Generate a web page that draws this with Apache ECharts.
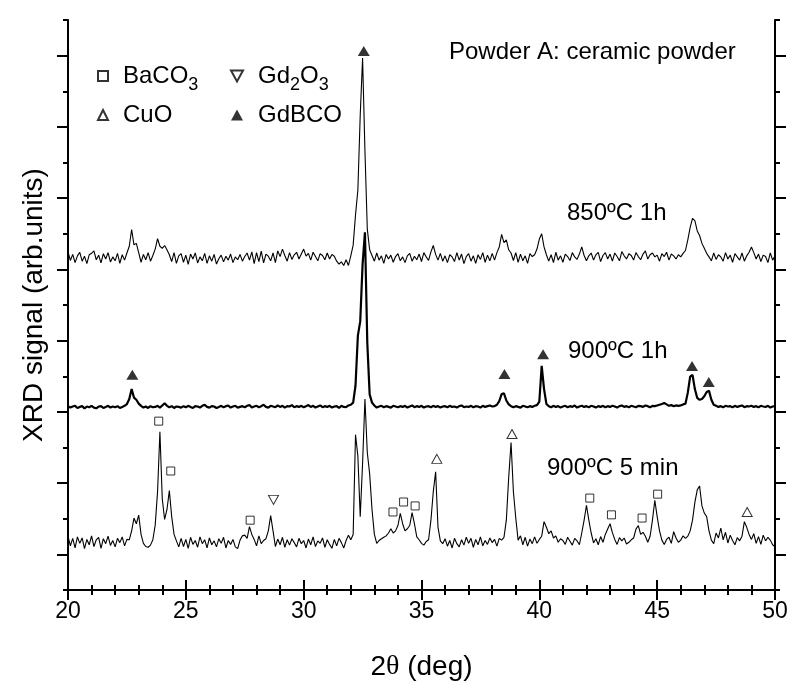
<!DOCTYPE html>
<html>
<head>
<meta charset="utf-8">
<script src="https://cdn.jsdelivr.net/npm/echarts@6/dist/echarts.min.js"></script>
<style>
  html, body { margin: 0; padding: 0; background: #fff; }
  #main { width: 791px; height: 686px; }
</style>
</head>
<body>
<div id="main"></div>
<script>
  // 2theta grid of the scans (deg)
  var thetaStart = 20;
  var thetaStep = 0.1;

  // vertical offsets of the stacked patterns (arb. units)
  var offset850 = 93.3;
  var offset900 = 51.4;
  var offset5min = 13.6;

  // 850ºC 1h, one row per degree (20.0 ... 50.0)
  var signal850 = [
    1.6, -0.8, 0.9, -1.4, 0.5, 1.5, -1.0, 0.4, -1.7, 0.8,
    1.2, 1.9, -0.6, 0.7, -1.5, 1.1, -0.4, 1.4, -1.2, 0.2,
    -0.9, 1.2, -1.6, 0.8, -0.7, 1.3, 3.2, 7.9, 3.6, 4.0,
    1.4, -1.3, 0.9, -0.6, 1.4, -1.0, 0.6, 2.4, 5.3, 3.2,
    2.6, 3.4, 2.2, 0.8, -1.1, 1.4, -1.6, 0.5, 1.1, -1.3,
    0.7, -1.9, 1.0, -0.4, 1.3, -1.5, 0.2, -0.9, 1.2, -1.6,
    0.5, -1.0, 0.9, -1.8, -0.3, 0.7, -1.2, 0.4, -0.7, 1.0,
    -1.4, 0.2, -0.6, 0.9, -1.0, 0.3, 1.3, -0.7, 1.6, -1.7,
    1.4, -1.1, 1.8, -1.5, 1.0, 0.4, -0.9, 1.3, -1.4, 1.9,
    0.3, 2.4, 0.6, -1.0, 1.4, -0.5, 0.8, 1.5, -0.4, 1.0,
    2.4, 0.4, 1.2, -0.7, 1.5, 0.3, -0.9, 1.1, 0.6, -0.6,
    1.3, -0.4, 0.9, 0.4, -1.0, -1.8, -1.2, -2.2, -0.6, -2.2,
    0.5, 3.5, 12.0, 19.0, 40.0, 56.0, 30.0, 8.0, 2.2, 0.6,
    -1.0, 1.3, -0.7, 0.5, -1.6, 0.9, -0.4, 0.7, -1.3, 0.3,
    1.1, -0.9, 0.2, -1.4, 0.5, 1.2, -1.0, 0.4, -0.6, 1.0,
    -1.1, 1.4, 0.2, -0.8, 1.6, 3.4, 0.9, -0.7, 1.2, -1.0,
    0.5, -1.4, 0.8, 0.2, -1.1, 1.4, -0.7, 1.0, -1.7, 0.3,
    1.1, -1.0, 0.5, -1.6, 0.8, -0.5, 1.4, -1.3, 0.7, -0.9,
    1.2, -0.7, 1.4, 3.0, 6.5, 4.2, 5.0, 2.2, 1.3, -0.8,
    1.4, -1.3, 1.0, -0.9, 0.5, -1.6, 1.1, 0.3, 0.8, 2.4,
    5.2, 6.7, 3.0, 0.8, -1.0, 0.8, -1.4, 1.5, -0.7, 0.5,
    -1.3, 1.0, 0.3, -0.8, 1.4, 0.2, -0.5, 1.0, 3.0, 0.6,
    -0.9, 0.5, 1.3, -0.7, 0.8, 1.5, -1.1, 0.6, 1.4, -0.4,
    1.0, -1.0, 1.3, 0.3, -0.9, 1.7, 0.5, -0.4, 1.1, 0.6,
    -0.7, 1.4, 0.3, -0.6, 1.0, 1.9, -0.4, 0.8, 1.3, 0.2,
    0.7, -1.0, 1.1, 0.3, 1.5, -0.7, 1.0, 0.5, -0.4, 0.8,
    0.2, 1.2, 2.0, 5.0, 8.5, 11.0, 10.4, 7.5, 6.2, 4.0,
    2.6, 1.2, 0.2, -0.9, 1.3, -0.5, 0.8, 0.2, -1.0, 1.4,
    -0.4, 0.7, -1.3, 1.1, 0.2, -0.7, 1.3, -1.0, 0.5, 1.5,
    3.0, 1.4, -0.4, 1.0, -1.1, 0.7, 0.3, -1.4, 1.3, -0.7,
    0.5
  ];

  // 900ºC 1h
  var signal900 = [
    0.2, -0.2, 0.1, 0.3, -0.3, 0.0, 0.2, -0.4, 0.1, -0.1,
    0.3, -0.2, -0.4, 0.1, 0.2, -0.3, 0.0, 0.3, -0.2, 0.1,
    -0.1, 0.2, -0.3, 0.0, 0.3, 0.8, 2.2, 5.0, 2.6, 2.0,
    0.9, 0.3, -0.2, 0.1, -0.3, 0.2, -0.1, 0.0, 0.3, -0.2,
    0.4, 1.0, 0.3, -0.1, 0.2, -0.3, 0.1, 0.0, -0.2, 0.2,
    -0.1, 0.3, 0.0, -0.3, 0.2, 0.1, -0.2, 0.3, 0.6, 0.0,
    -0.2, 0.2, 0.1, -0.3, 0.0, 0.3, -0.1, 0.2, 0.4, -0.2,
    0.1, 0.3, -0.2, 0.0, 0.2, -0.1, 0.3, 0.5, -0.2, 0.1,
    0.3, -0.1, 0.2, 0.6, 0.0, -0.2, 0.3, 0.1, -0.1, 0.4,
    0.0, 0.3, -0.2, 0.2, 0.1, 0.5, -0.1, 0.2, 0.0, 0.3,
    -0.1, 0.2, 0.5, 0.0, 0.3, -0.2, 0.1, 0.4, -0.1, 0.2,
    0.0, 0.3, -0.2, 0.1, 0.2, -0.3, 0.3, 0.0, -0.1, 0.4,
    0.6, 1.2, 6.0, 20.0, 24.0, 40.0, 49.0, 18.0, 3.5, 1.2,
    0.4, -0.2, 0.1, 0.3, -0.1, 0.2, 0.0, -0.2, 0.3, 0.1,
    -0.1, 0.2, 0.0, 0.3, -0.2, 0.1, 0.4, -0.1, 0.2, 0.0,
    0.3, -0.2, 0.1, 0.2, -0.1, 0.3, 0.0, 0.2, -0.2, 0.1,
    0.2, -0.1, 0.3, 0.0, 0.1, -0.2, 0.2, 0.4, -0.1, 0.1,
    0.0, 0.3, -0.1, 0.2, 0.1, -0.2, 0.3, 0.0, 0.2, 0.4,
    0.1, 0.2, 0.6, 1.6, 3.6, 3.8, 1.8, 0.7, 0.2, -0.1,
    0.2, 0.0, -0.2, 0.3, 0.1, -0.1, 0.2, 0.0, 0.3, 0.5,
    1.5, 11.5, 5.0, 0.8, 0.2, -0.1, 0.3, 0.0, 0.2, -0.2,
    0.1, 0.3, -0.1, 0.2, 0.0, 0.4, -0.2, 0.1, 0.3, 0.0,
    0.2, -0.1, 0.3, 0.1, -0.2, 0.2, 0.0, 0.3, -0.1, 0.2,
    0.0, 0.3, 0.1, -0.2, 0.2, 0.4, 0.0, 0.2, -0.1, 0.3,
    0.1, -0.1, 0.3, 0.2, 0.0, 0.4, 0.2, -0.1, 0.3, 0.2,
    0.4, 0.6, 0.8, 1.1, 0.7, 0.3, 0.5, 0.2, 0.4, 0.3,
    0.4, 0.7, 0.9, 4.0, 8.5, 9.0, 5.0, 2.5, 2.0, 2.2,
    3.0, 4.2, 4.5, 2.0, 0.6, 0.3, 0.0, 0.2, -0.1, 0.3,
    0.1, 0.2, -0.1, 0.3, 0.0, 0.2, 0.4, -0.1, 0.2, 0.1,
    0.3, 0.0, 0.2, -0.1, 0.3, 0.1, 0.0, 0.3, -0.2, 0.1,
    0.2
  ];

  // 900ºC 5 min
  var signal5min = [
    1.5, -1.2, 0.9, -1.8, 1.3, -0.5, 1.0, -2.0, 0.6, -0.9,
    1.6, -1.4, 0.5, 1.2, -1.9, 0.8, -0.6, 1.5, -1.1, 0.3,
    -1.5, 0.9, -0.3, 1.3, -1.2, 0.6, 0.5, 3.0, 6.6, 5.0,
    7.4, 2.0, -0.5, -1.4, -1.6, -1.0, 0.5, 4.6, 14.0, 30.8,
    12.0, 6.2, 9.0, 14.3, 7.0, 2.0, 0.2, -1.5, 0.9, -1.4,
    0.6, -1.9, 1.2, -0.8, 0.3, -1.6, 1.3, -0.6, 0.5, -1.8,
    1.0, -0.9, 0.2, -1.5, 0.8, -0.5, 1.2, -1.8, 0.3, -0.8,
    0.6, -1.5, -2.0, 0.4, 1.6, 1.8, 0.9, 4.2, 2.0, 0.6,
    -1.2, 1.6, -0.6, 0.3, 0.8, 3.0, 7.3, 3.0, -1.4, 0.7,
    -0.9, 1.2, -1.6, 0.5, -1.0, 0.8, -0.3, -1.5, 0.9, -0.6,
    0.3, -1.8, 0.7, -0.9, 1.3, -1.4, 0.2, -0.5, 1.0, -1.6,
    0.5, -0.8, -1.9, 0.6, -1.2, 0.9, -0.3, -1.8, 0.3, 1.8,
    0.5, 2.0, 30.0, 24.0, 7.0, 22.0, 40.0, 25.0, 19.0, 9.0,
    2.0, -0.5, 0.3, 0.8, 1.2, 1.6, 2.4, 3.6, 2.4, 3.0,
    4.5, 7.9, 5.0, 3.0, 3.6, 4.5, 8.1, 5.0, 1.3, 0.5,
    -0.5, -1.0, 0.0, 0.5, 6.0, 14.0, 19.6, 4.0, 0.2, -0.6,
    0.8, -1.3, 0.3, -1.8, 0.9, -0.6, -1.5, 0.5, -1.0, 1.2,
    -0.5, 0.9, -1.6, 0.6, -0.9, 1.3, -1.2, 0.3, -0.8, 1.0,
    -0.3, 0.6, -1.3, 0.9, 0.4, 1.2, 6.0, 18.0, 27.8, 14.0,
    6.6, 0.4, 1.6, -0.9, 1.2, -1.3, 0.7, -0.6, 1.3, -0.5,
    0.6, 1.5, 5.6, 4.0, 2.2, 3.0, 1.0, 1.6, -0.2, 0.8,
    0.3, -0.8, 1.2, 0.1, -1.0, 0.9, 0.2, -0.9, 2.4, 6.0,
    10.2, 6.0, 2.4, -0.4, 0.8, -0.9, 1.4, -0.2, 2.0, 3.5,
    5.0, 2.5, 0.6, -0.8, 1.1, 0.2, 1.0, -0.7, -0.2, 0.5,
    1.0, 3.5, 4.5, 2.0, 2.6, 1.5, -0.2, 1.5, 6.0, 11.6,
    7.0, 3.0, 0.4, -0.8, 0.6, 1.2, -0.5, 2.8, 1.0, -0.2,
    0.4, 1.6, 0.9, 1.5, 3.0, 6.0, 11.0, 14.5, 15.6, 10.0,
    8.0, 7.0, 3.0, 0.4, -0.6, 2.4, 1.0, 3.8, 0.5, 2.6,
    -0.4, 1.8, 0.3, -0.9, 1.1, 0.2, 1.5, 5.6, 4.0, 2.0,
    0.6, 2.2, -0.5, 1.4, -0.8, 1.8, 0.2, 1.2, 0.4, -0.9,
    -1.5
  ];

  // phase markers [2theta, height]
  var markBaCO3 = [[23.85, 47.4], [24.36, 33.4], [27.73, 19.6], [33.79, 21.9], [34.24, 24.7],
                   [34.73, 23.6], [42.14, 25.8], [43.06, 21.1], [44.36, 20.2], [45.02, 26.9]];
  var markCuO = [[35.65, 36.8], [38.84, 43.8], [48.82, 21.9]];
  var markGd2O3 = [[28.72, 25.3]];
  var markGdBCO = [[22.73, 60.4], [38.52, 60.6], [40.16, 66.2], [46.48, 62.9], [47.19, 58.4], [32.55, 151.3]];

  var xTicks = [20, 25, 30, 35, 40, 45, 50];

  var FONT = '"Liberation Sans", Arial, sans-serif';

  function toPoints(vals, offset) {
    return vals.map(function (v, i) {
      return [+(thetaStart + i * thetaStep).toFixed(2), v + offset];
    });
  }

  var legendText = {
    'BaCO3': '{g|}{n|BaCO}{s|3}',
    'CuO': '{g|}{n|CuO}',
    'Gd2O3': '{g|}{n|Gd}{s|2}{n|O}{s|3}',
    'GdBCO': '{g|}{n|GdBCO}'
  };
  var legendRich = {
    g: { width: 10 },
    n: { fontSize: 24, fontFamily: FONT, color: '#000' },
    s: { fontSize: 18, fontFamily: FONT, color: '#000', padding: [18, 0, 0, 0] }
  };

  function xAxisDef(pos, withLabels) {
    return {
      type: 'value', position: pos, min: xTicks[0], max: xTicks[xTicks.length - 1], interval: 5,
      axisLine: { lineStyle: { color: '#000', width: 2 } },
      axisTick: { length: 10, lineStyle: { color: '#000', width: 2 } },
      minorTick: { show: true, splitNumber: 5, length: 5, lineStyle: { color: '#000', width: 2 } },
      splitLine: { show: false },
      axisLabel: { show: withLabels, fontSize: 23, fontFamily: FONT, color: '#000', margin: 10 }
    };
  }
  function yAxisDef(pos) {
    // short ticks on the 20s, long minor ticks half way between them
    return {
      type: 'value', position: pos, min: 0, max: 160, interval: 20,
      axisLine: { lineStyle: { color: '#000', width: 2 } },
      axisTick: { length: 5, lineStyle: { color: '#000', width: 2 } },
      minorTick: { show: true, splitNumber: 2, length: 11, lineStyle: { color: '#000', width: 2 } },
      splitLine: { show: false },
      axisLabel: { show: false }
    };
  }

  var xBottom = xAxisDef('bottom', true);
  xBottom.name = '2{t|θ} (deg)';
  xBottom.nameLocation = 'middle';
  xBottom.nameGap = 63;
  xBottom.nameTextStyle = { fontSize: 28, fontFamily: FONT, color: '#000',
    rich: { t: { fontSize: 28, fontFamily: '"Liberation Serif", serif', color: '#000' } } };

  var yLeft = yAxisDef('left');
  yLeft.name = 'XRD signal (arb.units)';
  yLeft.nameLocation = 'middle';
  yLeft.nameGap = 20;
  yLeft.nameTextStyle = { fontSize: 28, fontFamily: FONT, color: '#000' };

  var myChart = echarts.init(document.getElementById('main'));
  myChart.setOption({
    backgroundColor: '#fff',
    animation: false,
    grid: { left: 68, right: 16, top: 20, bottom: 96 },
    xAxis: [xBottom, xAxisDef('top', false)],
    yAxis: [yLeft, yAxisDef('right')],
    legend: [
      { orient: 'vertical', left: 97, top: 64, padding: 0, itemWidth: 10, itemHeight: 10, itemGap: 9,
        selectedMode: false, data: ['BaCO3', 'CuO'],
        formatter: function (n) { return legendText[n]; }, textStyle: { rich: legendRich } },
      { orient: 'vertical', left: 230, top: 64, padding: 0, itemWidth: 12, itemHeight: 11, itemGap: 9,
        selectedMode: false,
        data: [{ name: 'Gd2O3', icon: 'path://M0,0 L10,0 L5,9 Z' }, 'GdBCO'],
        formatter: function (n) { return legendText[n]; }, textStyle: { rich: legendRich } }
    ],
    graphic: [
      { type: 'text', left: 449, top: 40, style: { text: 'Powder A: ceramic powder', font: '24px ' + FONT, fill: '#000' } },
      { type: 'text', left: 567, top: 201, style: { text: '850ºC 1h', font: '24px ' + FONT, fill: '#000' } },
      { type: 'text', left: 568, top: 339, style: { text: '900ºC 1h', font: '24px ' + FONT, fill: '#000' } },
      { type: 'text', left: 547, top: 456, style: { text: '900ºC 5 min', font: '24px ' + FONT, fill: '#000' } }
    ],
    series: [
      { name: '850ºC 1h', type: 'line', showSymbol: false, data: toPoints(signal850, offset850),
        lineStyle: { color: '#000', width: 1.1 } },
      { name: '900ºC 1h', type: 'line', showSymbol: false, data: toPoints(signal900, offset900),
        lineStyle: { color: '#000', width: 2.2 } },
      { name: '900ºC 5 min', type: 'line', showSymbol: false, data: toPoints(signal5min, offset5min),
        lineStyle: { color: '#000', width: 1.1 } },
      { name: 'BaCO3', type: 'scatter', symbol: 'rect', symbolSize: 8, data: markBaCO3, z: 5,
        itemStyle: { color: '#fff', borderColor: '#000', borderWidth: 1 } },
      { name: 'CuO', type: 'scatter', symbol: 'triangle', symbolSize: [10, 9], data: markCuO, z: 5,
        itemStyle: { color: '#fff', borderColor: '#000', borderWidth: 1 } },
      { name: 'Gd2O3', type: 'scatter', symbol: 'triangle', symbolRotate: 180, symbolSize: [10, 9], data: markGd2O3, z: 5,
        itemStyle: { color: '#fff', borderColor: '#000', borderWidth: 1 } },
      { name: 'GdBCO', type: 'scatter', symbol: 'triangle', symbolSize: [12, 10], data: markGdBCO, z: 5,
        itemStyle: { color: '#000' } }
    ]
  });
</script>
</body>
</html>
